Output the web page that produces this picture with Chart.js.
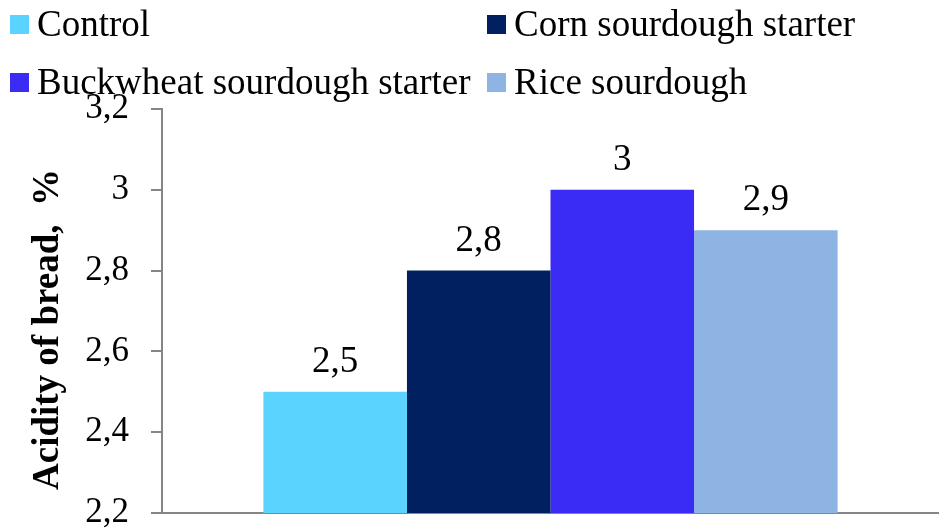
<!DOCTYPE html>
<html>
<head>
<meta charset="utf-8">
<script src="https://cdn.jsdelivr.net/npm/chart.js@4"></script>
<style>
  html, body { margin: 0; padding: 0; background: #fff; }
  #wrap { position: relative; width: 939px; height: 531px; overflow: hidden; }
  #chart { position: absolute; left: 0; top: 0; }
  #legend { position: absolute; left: 0; top: 0; width: 939px; font-family: 'Liberation Serif', 'Times New Roman', serif; font-size: 37px; color: #000; }
  .lg-item { position: absolute; display: flex; align-items: center; white-space: nowrap; line-height: 42px; }
  .lg-box { width: 19px; height: 19px; margin-right: 8px; }
</style>
</head>
<body>
<div id="wrap">
  <canvas id="chart" width="939" height="531"></canvas>
  <div id="legend"></div>
</div>
<script>
const seriesNames = ['Control', 'Corn sourdough starter', 'Buckwheat sourdough starter', 'Rice sourdough'];
const seriesValues = [2.5, 2.8, 3.0, 2.9];
const seriesColors = ['#5BD3FF', '#002060', '#3A2BF5', '#8EB4E3'];
const categories = [''];
const yTicks = [2.2, 2.4, 2.6, 2.8, 3.0, 3.2];

const fmt = v => String(Number(v.toFixed(1))).replace('.', ',');

// legend: two columns, like the original
const legendPos = [[10, 3], [487, 3], [10, 61], [487, 61]];
document.getElementById('legend').innerHTML = seriesNames.map((n, i) =>
  `<div class="lg-item" style="left:${legendPos[i][0]}px;top:${legendPos[i][1]}px"><span class="lg-box" style="background:${seriesColors[i]}"></span>${n}</div>`
).join('');

const valueLabels = {
  id: 'valueLabels',
  afterDatasetsDraw(chart) {
    const ctx = chart.ctx;
    ctx.save();
    ctx.font = '37px "Liberation Serif", serif';
    ctx.fillStyle = '#000';
    ctx.textAlign = 'center';
    ctx.textBaseline = 'alphabetic';
    chart.data.datasets.forEach((ds, i) => {
      const bar = chart.getDatasetMeta(i).data[0];
      ctx.fillText(fmt(ds.data[0]), bar.x, bar.y - 20);
    });
    ctx.restore();
  }
};

const axisGray = '#868686';

new Chart(document.getElementById('chart'), {
  type: 'bar',
  data: {
    labels: categories,
    datasets: seriesNames.map((n, i) => ({
      label: n, data: [seriesValues[i]], backgroundColor: seriesColors[i], borderWidth: 0,
      categoryPercentage: 0.739, barPercentage: 1.0
    }))
  },
  options: {
    responsive: false, animation: false, devicePixelRatio: 1,
    layout: { padding: { top: 109, right: 0, bottom: 18, left: 0 } },
    plugins: { legend: { display: false }, tooltip: { enabled: false } },
    scales: {
      x: {
        grid: { display: false },
        border: { display: true, color: axisGray, width: 2 },
        ticks: { display: false },
        afterFit: s => { s.height = 0; }
      },
      y: {
        min: 2.2, max: 3.2,
        afterBuildTicks: s => { s.ticks = yTicks.map(v => ({ value: v })); },
        afterFit: s => { s.width = 162; s.paddingTop = 0; s.paddingBottom = 0; },
        grid: { drawOnChartArea: false, drawTicks: true, tickLength: 11, color: axisGray, lineWidth: 2 },
        border: { display: true, color: axisGray, width: 2 },
        ticks: {
          color: '#000', padding: 22,
          font: { family: 'Liberation Serif', size: 35 },
          callback: v => fmt(v)
        },
        title: {
          // trailing spaces nudge the rotated title down, as in the original
          display: true, text: 'Acidity of bread,  %    ', color: '#000', padding: { top: 26, bottom: 0 },
          font: { family: 'Liberation Serif', size: 37, weight: 'bold' }
        }
      }
    }
  },
  plugins: [valueLabels]
});
</script>
</body>
</html>
